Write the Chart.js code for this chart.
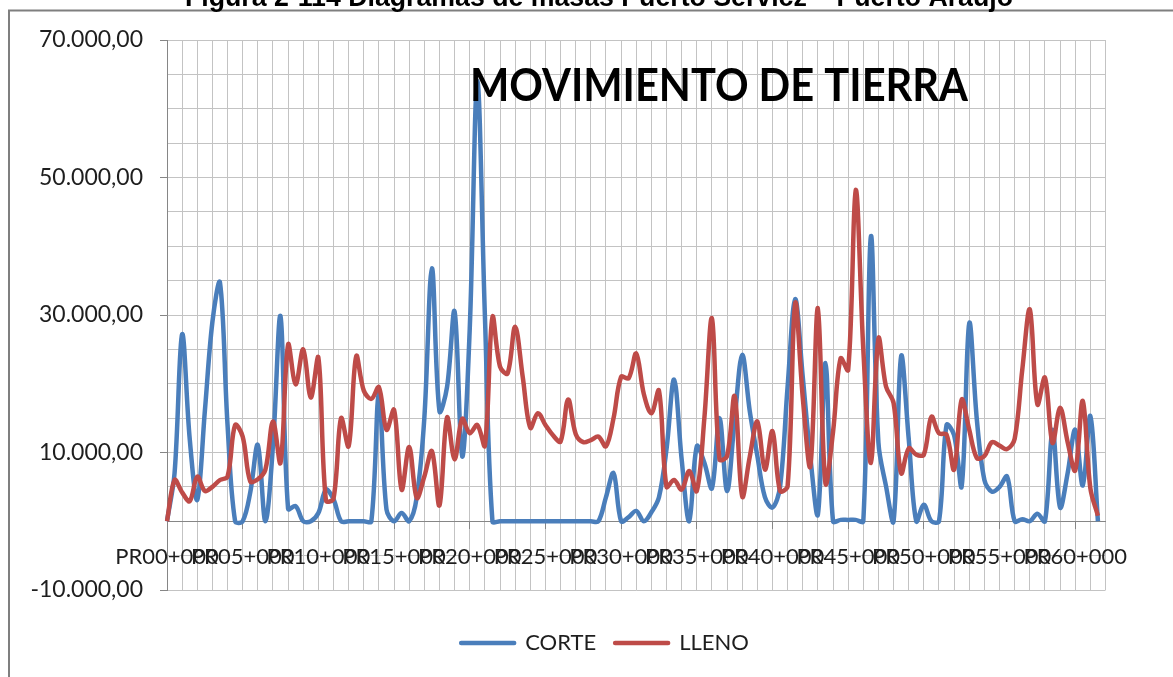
<!DOCTYPE html>
<html lang="es">
<head>
<meta charset="utf-8">
<title>Movimiento de tierra</title>
<script src="https://cdn.jsdelivr.net/npm/chart.js@4.4.1/dist/chart.umd.min.js"></script>
<style>
  html, body { margin: 0; padding: 0; background: #fff; }
</style>
</head>
<body>
<canvas id="masas" width="1173" height="677"></canvas>
<script>
// Abscisas cada 500 m, PR00+000 .. PR62+000
const STATIONS = [];
for (let k = 0; k <= 124; k++) {
    const km = Math.floor(k / 2);
    STATIONS.push('PR' + String(km).padStart(2, '0') + '+' + (k % 2 ? '500' : '000'));
}

// Volúmenes (m3) por abscisa
const CORTE = [
    0, 7000, 27200, 12000, 3100, 16000, 29000, 34700, 14000, 0,
    0, 4200, 11100, 0, 11000, 29800, 1800, 2200, 0, 0,
    1200, 4600, 3200, 0, 0, 0, 0, 0, 18600, 1700,
    0, 1200, 0, 3500, 15000, 36800, 16000, 19500, 30500, 9400,
    28000, 64000, 30000, 0, 0, 0, 0, 0, 0, 0,
    0, 0, 0, 0, 0, 0, 0, 0, 3500, 7000,
    0, 600, 1500, 0, 1300, 3500, 10500, 20600, 9000, 0,
    10900, 8500, 4800, 15000, 4400, 14800, 24200, 16000, 9500, 3500,
    2000, 5000, 19600, 32300, 21000, 9400, 1000, 23000, 0, 200,
    200, 200, 0, 41400, 11400, 5100, 0, 24000, 12000, 0,
    2400, 0, 0, 14000, 12500, 5100, 28800, 14800, 6000, 4300,
    5000, 6500, 0, 300, 0, 1100, 0, 13300, 2000, 7000,
    13300, 5200, 15300, 0
];

const LLENO = [
    0, 6000, 4200, 2900, 6500, 4400, 5000, 6000, 6500, 14000,
    12300, 5800, 6100, 7500, 14500, 8500, 25700, 19900, 25000, 18000,
    23800, 3000, 3300, 15000, 10900, 24000, 19000, 17800, 19500, 13300,
    16200, 4600, 10800, 3400, 6500, 10200, 2300, 15100, 9000, 14900,
    12800, 14000, 11000, 29700, 22500, 21500, 28300, 21000, 13600, 15700,
    14000, 12500, 11600, 17700, 12700, 11500, 11800, 12300, 10900, 15000,
    21000, 20800, 24400, 18500, 15700, 19000, 5000, 6000, 4600, 7300,
    4400, 15000, 29500, 9000, 9500, 18200, 3600, 9400, 14500, 7500,
    13100, 4400, 5100, 31700, 18000, 8000, 31000, 5500, 13000, 23700,
    22000, 48200, 25000, 8500, 26600, 19600, 17200, 7000, 10600, 9700,
    9700, 15200, 12800, 12600, 7500, 17700, 13300, 9200, 9500, 11500,
    11000, 10500, 12000, 22000, 30800, 17000, 20900, 11400, 16500, 11500,
    7400, 17500, 4800, 800
];

const Y_MIN = -10000;
const Y_MAX = 70000;
const Y_STEP = 5000;
const Y_LABEL_STEP = 20000;
const X_LABEL_EVERY = 10;

const FIG_CAPTION = 'Figura 2-114 Diagramas de masas Puerto Servicz \u2013 Puerto Araujo';
const CHART_TITLE = 'MOVIMIENTO DE TIERRA';

const BLUE = '#4a7ebb';
const RED = '#be4b48';
const GRID = '#c3c3c3';
const AXIS = '#868686';
const TEXT = '#1e1e1e';
const FONT = 'Lato, "Open Sans", sans-serif';

// 10000 -> "10.000,00"
function formatEs(v) {
    const parts = Math.abs(v).toFixed(2).split('.');
    const int = parts[0].replace(/\B(?=(\d{3})+(?!\d))/g, '.');
    return (v < 0 ? '-' : '') + int + ',' + parts[1];
}

const isLabelled = v => (v - Y_MIN) % Y_LABEL_STEP === 0;

// marco del gráfico, leyenda de la figura y título superpuesto
const decorations = {
    id: 'decorations',
    afterDraw(chart) {
        const ctx = chart.ctx;
        ctx.save();

        ctx.strokeStyle = '#7f7f7f';
        ctx.lineWidth = 2;
        ctx.beginPath();
        ctx.moveTo(9, 690);
        ctx.lineTo(9, 10.5);
        ctx.lineTo(1190, 10.5);
        ctx.stroke();

        ctx.fillStyle = '#000';
        ctx.font = 'bold 27px "Liberation Sans", Arial, sans-serif';
        ctx.textAlign = 'center';
        ctx.textBaseline = 'alphabetic';
        ctx.fillText(FIG_CAPTION, 599, 6, 828);

        ctx.font = 'bold 46px ' + FONT;
        ctx.textAlign = 'left';
        ctx.fillText(CHART_TITLE, 470, 101, 498);

        ctx.restore();
    }
};

new Chart(document.getElementById('masas'), {
    type: 'line',
    data: {
        labels: STATIONS,
        datasets: [
            {
                label: 'CORTE',
                data: CORTE,
                borderColor: BLUE,
                backgroundColor: BLUE,
                order: 1
            },
            {
                label: 'LLENO',
                data: LLENO,
                borderColor: RED,
                backgroundColor: RED,
                order: 0
            }
        ]
    },
    options: {
        responsive: false,
        animation: false,
        // el margen derecho negativo desplaza la leyenda hacia la derecha
        layout: { padding: { left: 26, right: -11, top: 40, bottom: 13 } },
        elements: {
            point: { radius: 0, hoverRadius: 0 },
            line: { borderWidth: 4.5, tension: 0.35, borderJoinStyle: 'round' }
        },
        plugins: {
            tooltip: { enabled: false },
            legend: {
                position: 'bottom',
                reverse: true,
                // título vacío: separa la leyenda del área de trazado
                title: { display: true, text: '', padding: { top: 13, bottom: 0 }, font: { size: 10, lineHeight: 1 } },
                labels: {
                    boxWidth: 53,
                    boxHeight: 0,
                    padding: 19,
                    color: TEXT,
                    font: { family: FONT, size: 22 }
                }
            }
        },
        scales: {
            x: {
                type: 'category',
                position: { y: 0 },
                offset: false,
                border: { display: true, color: AXIS, width: 1 },
                grid: {
                    color: c => (c.index % 2 === 0 ? GRID : 'transparent'),
                    tickColor: c => (c.index % X_LABEL_EVERY === 0 ? AXIS : 'transparent'),
                    tickLength: 7,
                    lineWidth: 1
                },
                ticks: {
                    autoSkip: false,
                    maxRotation: 0,
                    minRotation: 0,
                    padding: 15,
                    color: TEXT,
                    font: { family: FONT, size: 22 },
                    callback: (v, i) => (i % X_LABEL_EVERY === 0 ? STATIONS[i] : '')
                }
            },
            y: {
                min: Y_MIN,
                max: Y_MAX,
                afterFit: s => { s.width = 141; },
                border: { display: true, color: AXIS, width: 1 },
                grid: {
                    color: GRID,
                    tickColor: c => (c.tick && isLabelled(c.tick.value) ? AXIS : 'transparent'),
                    tickLength: 7
                },
                ticks: {
                    stepSize: Y_STEP,
                    padding: 17,
                    color: TEXT,
                    font: { family: FONT, size: 23 },
                    callback: v => (isLabelled(v) ? formatEs(v) : '')
                }
            },
            // margen derecho del área de trazado
            yPad: {
                type: 'linear',
                position: 'right',
                grid: { display: false },
                border: { display: false },
                ticks: { display: false },
                afterFit: s => { s.width = 78.5; }
            }
        }
    },
    plugins: [decorations]
});
</script>
</body>
</html>
